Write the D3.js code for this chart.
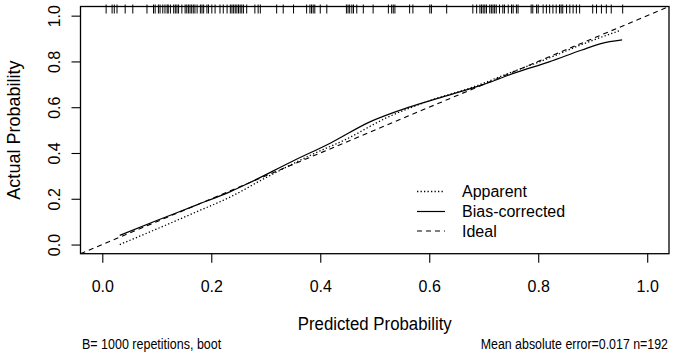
<!DOCTYPE html>
<html><head><meta charset="utf-8">
<script src="https://cdn.jsdelivr.net/npm/d3@7/dist/d3.min.js"></script>
<style>
html,body{margin:0;padding:0;background:#fff;}
text{font-family:"Liberation Sans",Arial,Helvetica,sans-serif;fill:#000;}
</style></head><body>
<svg id="chart" width="675" height="355"></svg>
<script>
// ---- data ----
const xTicks = [0.0, 0.2, 0.4, 0.6, 0.8, 1.0];
const yTicks = [0.0, 0.2, 0.4, 0.6, 0.8, 1.0];
const tickLabels = ["0.0", "0.2", "0.4", "0.6", "0.8", "1.0"];

const apparentX = [0.032, 0.10, 0.17, 0.235, 0.30, 0.38, 0.45, 0.52, 0.60, 0.68, 0.75, 0.82, 0.88, 0.95];
const apparentY = [0.000, 0.068, 0.140, 0.208, 0.292, 0.388, 0.463, 0.552, 0.628, 0.688, 0.752, 0.815, 0.874, 0.935];

const biasX = [0.032, 0.10, 0.17, 0.235, 0.27, 0.35, 0.42, 0.49, 0.56, 0.625, 0.70, 0.76, 0.82, 0.88, 0.915, 0.954];
const biasY = [0.040, 0.105, 0.170, 0.231, 0.270, 0.365, 0.445, 0.535, 0.598, 0.645, 0.700, 0.752, 0.798, 0.850, 0.878, 0.894];

const idealX = [-0.04, 1.04];
const idealY = [-0.04, 1.04];

const rugValues = [0.007,0.018,0.022,0.027,0.042,0.056,0.082,0.094,0.097,0.103,0.106,0.111,0.115,0.119,0.121,0.125,
  0.131,0.134,0.137,0.140,0.146,0.152,0.155,0.158,0.161,0.164,0.167,0.170,0.174,0.180,0.183,0.186,0.192,0.195,
  0.201,0.207,0.216,0.222,0.229,0.235,0.238,0.241,0.244,0.247,0.250,0.253,0.256,0.259,0.265,0.280,0.286,0.290,
  0.320,0.332,0.351,0.375,0.381,0.384,0.387,0.390,0.400,0.412,0.448,0.451,0.454,0.458,0.461,0.467,0.479,0.497,
  0.525,0.531,0.534,0.537,0.564,0.570,0.601,0.604,0.632,0.680,0.687,0.693,0.696,0.699,0.702,0.705,0.711,0.714,
  0.717,0.720,0.723,0.729,0.735,0.738,0.745,0.751,0.754,0.760,0.763,0.787,0.790,0.797,0.800,0.809,0.815,0.821,
  0.827,0.833,0.839,0.842,0.845,0.852,0.858,0.864,0.870,0.876,0.900,0.907,0.916,0.925,0.934,0.955];

const legendLabels = ["Apparent", "Bias-corrected", "Ideal"];
const xTitle = "Predicted Probability";
const yTitle = "Actual Probability";
const subLeft = "B= 1000 repetitions, boot";
const subRight = "Mean absolute error=0.017 n=192";

// ---- layout ----
const L = 80.5, R = 669, T = 6.5, B = 253.7;
const svg = d3.select("#chart");
const x = d3.scaleLinear().domain([-0.04, 1.04]).range([L, R]);
const y = d3.scaleLinear().domain([-0.04, 1.04]).range([B, T]);

svg.append("clipPath").attr("id","clip").append("rect")
  .attr("x", L).attr("y", T - 4).attr("width", R-L).attr("height", B-T+4);

const g = svg.append("g").attr("clip-path","url(#clip)");
const line = d3.line().x(d=>x(d[0])).y(d=>y(d[1])).curve(d3.curveMonotoneX);

g.append("path").datum(idealX.map((v,i)=>[v, idealY[i]]))
  .attr("d", d3.line().x(d=>x(d[0])).y(d=>y(d[1])))
  .attr("fill","none").attr("stroke","#000").attr("stroke-width",1.1).attr("stroke-dasharray","5,4");
g.append("path").datum(apparentX.map((v,i)=>[v, apparentY[i]]))
  .attr("d", line).attr("fill","none").attr("stroke","#000").attr("stroke-width",1.3).attr("stroke-dasharray","1.3,2.2");
g.append("path").datum(biasX.map((v,i)=>[v, biasY[i]]))
  .attr("d", line).attr("fill","none").attr("stroke","#000").attr("stroke-width",1.2);

// rug
g.selectAll("line.rug").data(rugValues).enter().append("line")
  .attr("x1", d=>x(d)).attr("x2", d=>x(d))
  .attr("y1", T - 2).attr("y2", T + 7)
  .attr("stroke","#000").attr("stroke-width",1);

// box
svg.append("rect").attr("x",L).attr("y",T).attr("width",R-L).attr("height",B-T)
  .attr("fill","none").attr("stroke","#000").attr("stroke-width",1.3);

// axes
const xAxis = d3.axisBottom(x).tickValues(xTicks).tickSize(9).tickPadding(18)
  .tickFormat((d,i)=>tickLabels[i]);
const xa = svg.append("g").attr("transform",`translate(0,${B})`).call(xAxis);
xa.select(".domain").attr("stroke","none");
xa.selectAll(".tick line").attr("stroke-width",1.1);
xa.selectAll("text").attr("font-size",16).attr("font-family","Liberation Sans");

const yAxis = d3.axisLeft(y).tickValues(yTicks).tickSize(9).tickPadding(0)
  .tickFormat((d,i)=>tickLabels[i]);
const ya = svg.append("g").attr("transform",`translate(${L},0)`).call(yAxis);
ya.select(".domain").attr("stroke","none");
ya.selectAll(".tick line").attr("stroke-width",1.1);
ya.selectAll(".tick text").attr("font-size",16).attr("font-family","Liberation Sans")
  .attr("x",null).attr("dy",null)
  .attr("text-anchor","middle")
  .attr("transform","translate(-21,0) rotate(-90)");

// titles
svg.append("text").attr("transform",`translate(${(L+R)/2},330) scale(1,1.08)`).attr("text-anchor","middle")
  .attr("font-size",16.8).text(xTitle);
svg.append("text").attr("transform",`translate(20,${(T+B)/2}) rotate(-90)`).attr("text-anchor","middle")
  .attr("font-size",18).text(yTitle);
svg.append("text").attr("transform","translate(82,349) scale(1,1.18)").attr("font-size",12.5).text(subLeft);
svg.append("text").attr("transform","translate(668,349) scale(1,1.18)").attr("text-anchor","end")
  .attr("font-size",12.4).text(subRight);

// legend
const legStyles = [
  {dash:"1.3,2.2", w:1.3},
  {dash:null, w:1.2},
  {dash:"5,4", w:1.1}
];
const legY = [191.5, 211.5, 231];
legendLabels.forEach((lab,i)=>{
  const ln = svg.append("line").attr("x1",417).attr("x2",445).attr("y1",legY[i]).attr("y2",legY[i])
    .attr("stroke","#000").attr("stroke-width",legStyles[i].w);
  if (legStyles[i].dash) ln.attr("stroke-dasharray",legStyles[i].dash);
  svg.append("text").attr("x",462).attr("y",legY[i]+5.5).attr("font-size",16).text(lab);
});
</script>
</body></html>
